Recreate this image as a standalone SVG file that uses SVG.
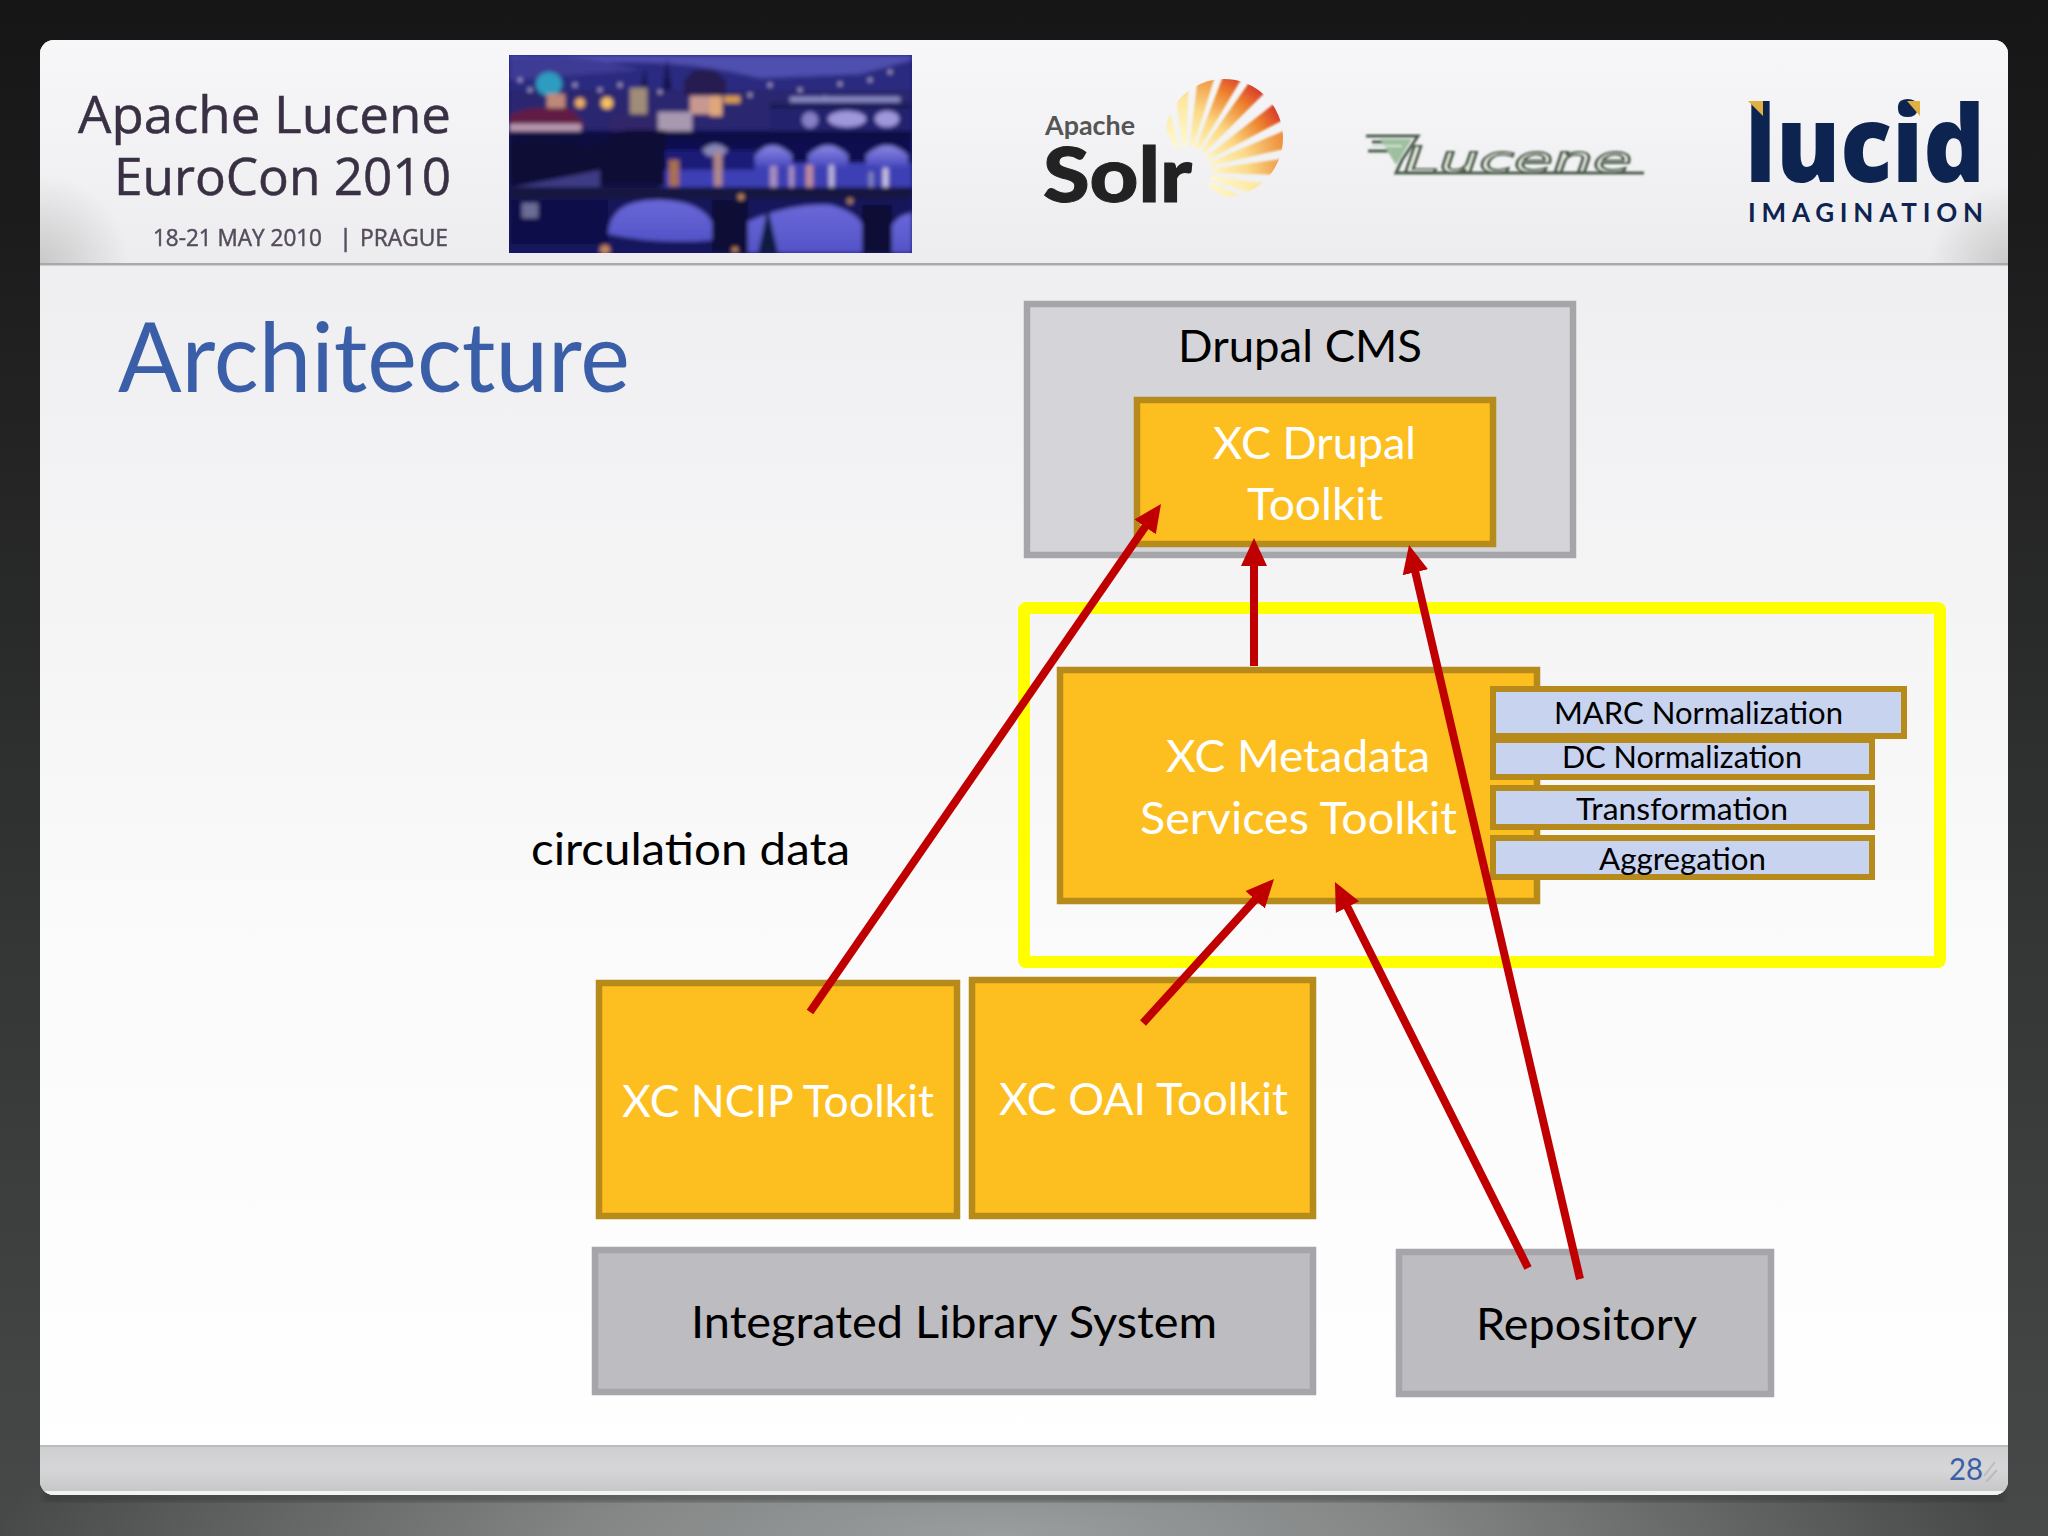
<svg xmlns="http://www.w3.org/2000/svg" width="2048" height="1536" viewBox="0 0 2048 1536">
<style>
.b{font-family:Lato,"Liberation Sans",sans-serif;font-size:44px;text-anchor:start}
.s{font-family:Lato,"Liberation Sans",sans-serif;font-size:31px;fill:#000}
.w{fill:#fff}.k{fill:#000}
.gold{fill:#fdbe20;stroke:#b78a1c;stroke-width:6.5}
.gray{fill:#bdbcc0;stroke:#a6a5aa;stroke-width:6.5}
.blue{fill:#c8d3ef;stroke:#b78a1c;stroke-width:6}
.hd{font-family:"Open Sans","Noto Sans",sans-serif;fill:#3a3044;stroke:#3a3044;stroke-width:.5}
.arrow{stroke:#c00000;stroke-width:8;fill:none;marker-end:url(#ah)}
</style>
<defs>
<marker id="ah" markerUnits="userSpaceOnUse" markerWidth="34" markerHeight="34" refX="6" refY="15" orient="auto"><path d="M0 2L28 15L0 28Z" fill="#c00000"/></marker>
<linearGradient id="bg" x1="0" y1="0" x2="0" y2="1"><stop offset="0" stop-color="#161616"/><stop offset=".15" stop-color="#1c1c1c"/><stop offset="1" stop-color="#484a4a"/></linearGradient>
<radialGradient id="glow" cx="1000" cy="1536" r="1000" gradientUnits="userSpaceOnUse" gradientTransform="matrix(1 0 0 .2 0 1228.8)"><stop offset="0" stop-color="#9a9e9e"/><stop offset=".4" stop-color="#858787"/><stop offset="1" stop-color="#858787" stop-opacity="0"/></radialGradient>
<linearGradient id="body" x1="0" y1="0" x2="0" y2="1"><stop offset="0" stop-color="#ebebed"/><stop offset=".65" stop-color="#fbfbfc"/><stop offset="1" stop-color="#fff"/></linearGradient>
<linearGradient id="head" x1="0" y1="0" x2="0" y2="1"><stop offset="0" stop-color="#f7f7f9"/><stop offset="1" stop-color="#ededef"/></linearGradient>
<linearGradient id="foot" x1="0" y1="0" x2="0" y2="1"><stop offset="0" stop-color="#cfcfd1"/><stop offset=".5" stop-color="#d6d6d8"/><stop offset="1" stop-color="#c4c4c6"/></linearGradient>
<radialGradient id="cornerL" cx="40" cy="265" r="90" gradientUnits="userSpaceOnUse"><stop offset="0" stop-color="#b0b0b0" stop-opacity=".6"/><stop offset="1" stop-color="#b0b0b0" stop-opacity="0"/></radialGradient>
<radialGradient id="cornerR" cx="2008" cy="265" r="80" gradientUnits="userSpaceOnUse"><stop offset="0" stop-color="#b0b0b0" stop-opacity=".6"/><stop offset="1" stop-color="#b0b0b0" stop-opacity="0"/></radialGradient>
<clipPath id="panel"><rect x="40" y="40" width="1968" height="1455" rx="14"/></clipPath>
<clipPath id="ph"><rect x="509" y="55" width="403" height="198"/></clipPath>
<clipPath id="sun"><circle cx="1224" cy="138" r="59"/></clipPath>
<filter id="bl" x="-5%" y="-5%" width="110%" height="110%"><feGaussianBlur stdDeviation="2"/></filter>
<filter id="bl2" x="-5%" y="-5%" width="110%" height="110%"><feGaussianBlur stdDeviation=".8"/></filter>
<linearGradient id="arch" x1="0" y1="0" x2="0" y2="1"><stop offset="0" stop-color="#8a88e4"/><stop offset="1" stop-color="#4c4cc0"/></linearGradient>
<linearGradient id="archLow" x1="0" y1="0" x2="0" y2="1"><stop offset="0" stop-color="#6a68d8"/><stop offset="1" stop-color="#5454c8"/></linearGradient>
<radialGradient id="r1" cx="1186" cy="172" r="112" gradientUnits="userSpaceOnUse"><stop offset=".2" stop-color="#fff8c8"/><stop offset=".5" stop-color="#fbd680"/><stop offset=".78" stop-color="#ee8530"/><stop offset="1" stop-color="#d8352a"/></radialGradient>
<radialGradient id="r2" cx="1186" cy="172" r="112" gradientUnits="userSpaceOnUse"><stop offset=".2" stop-color="#fff8c8"/><stop offset=".55" stop-color="#fbda88"/><stop offset=".85" stop-color="#f09a45"/><stop offset="1" stop-color="#e88038"/></radialGradient>
<radialGradient id="r3" cx="1186" cy="172" r="112" gradientUnits="userSpaceOnUse"><stop offset=".2" stop-color="#fffad0"/><stop offset=".65" stop-color="#fde7a0"/><stop offset="1" stop-color="#e4b860"/></radialGradient>
<polygon id="ray" points="1212,170 1316,161 1316,183 1212,174"/>
</defs>

<rect id="backdrop" width="2048" height="1536" fill="url(#bg)"/>
<rect width="2048" height="1536" fill="url(#glow)"/>
<rect x="44" y="1490" width="1960" height="12" fill="#333" opacity=".45" filter="url(#bl)"/>

<g id="slide" clip-path="url(#panel)">
<rect x="40" y="40" width="1968" height="1455" fill="url(#body)"/>
<rect x="40" y="40" width="1968" height="223" fill="url(#head)"/>
<rect x="40" y="175" width="90" height="90" fill="url(#cornerL)"/>
<rect x="1928" y="185" width="80" height="80" fill="url(#cornerR)"/>
<rect x="40" y="263" width="1968" height="2.5" fill="#a9a9ab"/>
<rect x="40" y="1445" width="1968" height="50" fill="url(#foot)"/>
<rect x="40" y="1445" width="1968" height="2" fill="#bcbcbe"/>
<rect x="40" y="1491" width="1968" height="4" fill="#f2f2f2"/>
</g>

<g id="conference">
<text class="hd" x="78" y="133" font-size="52" textLength="373" lengthAdjust="spacingAndGlyphs">Apache Lucene</text>
<text class="hd" x="114" y="195" font-size="52" textLength="337" lengthAdjust="spacingAndGlyphs">EuroCon 2010</text>
<text class="hd" y="246" font-size="24" opacity=".85"><tspan x="153" textLength="169" lengthAdjust="spacingAndGlyphs">18-21 MAY 2010</tspan><tspan x="339">|</tspan><tspan x="360" textLength="88" lengthAdjust="spacingAndGlyphs">PRAGUE</tspan></text>
</g>

<g id="photo" clip-path="url(#ph)">
<rect x="509" y="55" width="403" height="198" fill="#1c1c78"/>
<g filter="url(#bl)">
<rect x="509" y="55" width="403" height="40" fill="#4f4fb0"/>
<path d="M509 70Q650 50 760 78L860 74L912 60V130H509Z" fill="#2c2a80"/>
<path d="M509 58Q580 52 640 70L509 80Z" fill="#3c3a94"/>
<rect x="509" y="90" width="403" height="40" fill="#2a2670"/>
<path d="M672 90L667 58L662 90ZM648 90L645 68L640 90Z" fill="#181650"/>
<path d="M684 80L694 70H714L726 80V95H684Z" fill="#261a50"/>
<ellipse cx="549" cy="84" rx="13" ry="12" fill="#2f9cc0"/>
<rect x="547" y="94" width="18" height="16" fill="#c08878"/>
<rect x="630" y="88" width="17" height="28" fill="#a08c78"/>
<rect x="690" y="96" width="30" height="18" fill="#c89890"/>
<rect x="710" y="96" width="12" height="20" fill="#e0a878"/>
<rect x="724" y="96" width="16" height="7" fill="#d89c50"/>
<circle cx="580" cy="103" r="5" fill="#f0b060"/><circle cx="607" cy="103" r="6" fill="#f8c060"/>
<rect x="658" y="112" width="34" height="20" fill="#a898b0"/>
<path d="M509 115L530 108H570L583 122V128H509Z" fill="#601a44"/>
<rect x="509" y="124" width="72" height="13" fill="#b898b0"/>
<rect x="545" y="136" width="28" height="12" fill="#c0a8b8"/>
<rect x="610" y="114" width="48" height="30" fill="#30286a"/>
<g fill="#c0b0d8"><circle cx="520" cy="80" r="2"/><circle cx="530" cy="90" r="2"/><circle cx="575" cy="85" r="2"/><circle cx="600" cy="90" r="2"/><circle cx="620" cy="85" r="2"/><circle cx="660" cy="92" r="2"/><circle cx="750" cy="95" r="2"/><circle cx="770" cy="85" r="2"/><circle cx="800" cy="90" r="2"/><circle cx="840" cy="84" r="2"/><circle cx="870" cy="80" r="2"/><circle cx="890" cy="72" r="2"/><circle cx="795" cy="100" r="2"/><circle cx="825" cy="98" r="2"/></g>
<rect x="790" y="97" width="110" height="5" fill="#8c8cc8"/>
<rect x="770" y="103" width="142" height="6" fill="#1c1a58"/>
<rect x="770" y="109" width="142" height="22" fill="#24206e"/>
<ellipse cx="847" cy="119" rx="19" ry="8" fill="#a098dc"/>
<ellipse cx="887" cy="119" rx="12" ry="8" fill="#a098dc"/>
<ellipse cx="810" cy="120" rx="8" ry="8" fill="#8880c8"/>
<rect x="509" y="131" width="403" height="12" fill="#0d0f44"/>
<rect x="660" y="140" width="252" height="24" fill="#0f1150"/>
<rect x="660" y="163" width="252" height="28" fill="#3e40b4"/>
<rect x="660" y="150" width="95" height="20" fill="#1a1c78"/>
<path d="M755 166V155Q772 136 792 155V166ZM808 166V155Q828 136 848 155V166ZM866 166V155Q887 136 908 155V166Z" fill="url(#arch)"/>
<path d="M702 150Q715 138 728 150L722 156H708Z" fill="#8888b8"/>
<rect x="669" y="160" width="10" height="26" fill="#a87050"/>
<rect x="714" y="152" width="8" height="34" fill="#b08888"/>
<rect x="770" y="166" width="7" height="24" fill="#a890c0"/><rect x="789" y="166" width="5" height="24" fill="#a890c0"/>
<rect x="806" y="165" width="7" height="25" fill="#c08c98"/><rect x="829" y="165" width="5" height="25" fill="#c0b8dc"/>
<rect x="869" y="172" width="4" height="20" fill="#8888bc"/><rect x="883" y="168" width="5" height="24" fill="#d0c8e4"/>
<rect x="509" y="135" width="151" height="50" fill="#100f40"/>
<path d="M509 142Q560 135 590 150L625 130H665V186H509Z" fill="#0b0c36"/>
<path d="M509 188L570 176L600 170V188Z" fill="#3e3a84"/>
<rect x="509" y="187" width="403" height="13" fill="#14133f"/>
<rect x="509" y="199" width="403" height="54" fill="#14145c"/>
<path d="M608 234Q610 199 660 200Q700 201 712 222V240Q660 245 608 234Z" fill="url(#archLow)"/>
<path d="M747 253V222Q790 203 830 205Q856 212 862 224V253Z" fill="url(#archLow)"/>
<path d="M892 253V225Q900 214 912 213V253Z" fill="url(#archLow)"/>
<rect x="712" y="200" width="36" height="53" fill="#101036"/>
<rect x="862" y="205" width="30" height="48" fill="#101036"/>
<path d="M758 253L768 208L778 253Z" fill="#0d1a40"/>
<rect x="509" y="200" width="99" height="44" fill="#111148"/>
<rect x="522" y="203" width="16" height="15" fill="#6c6c98"/>
<circle cx="605" cy="250" r="5" fill="#c88858"/><circle cx="735" cy="250" r="3" fill="#c88858"/><circle cx="741" cy="197" r="3" fill="#c89058"/><circle cx="850" cy="201" r="3" fill="#b08060"/>
</g>
</g>

<g id="solr">
<g clip-path="url(#sun)" filter="url(#bl2)">
<use href="#ray" fill="url(#r3)" transform="rotate(-110 1186 172)"/>
<use href="#ray" fill="url(#r3)" transform="rotate(-93 1186 172)"/>
<use href="#ray" fill="url(#r2)" transform="rotate(-78 1186 172)"/>
<use href="#ray" fill="url(#r1)" transform="rotate(-64 1186 172)"/>
<use href="#ray" fill="url(#r1)" transform="rotate(-50 1186 172)"/>
<use href="#ray" fill="url(#r1)" transform="rotate(-33 1186 172)"/>
<use href="#ray" fill="url(#r2)" transform="rotate(-18 1186 172)"/>
<use href="#ray" fill="url(#r2)" transform="rotate(-3 1186 172)"/>
<use href="#ray" fill="url(#r3)" transform="rotate(13 1186 172)"/>
<use href="#ray" fill="url(#r3)" transform="rotate(28 1186 172)"/>
</g>
<text x="1045" y="135" font-family="Lato,'Liberation Sans',sans-serif" font-weight="700" font-size="26" fill="#555" textLength="90" lengthAdjust="spacingAndGlyphs">Apache</text>
<text x="1043" y="202" font-family="Lato,'Liberation Sans',sans-serif" font-weight="900" font-size="76" fill="#222" stroke="#222" stroke-width="1" textLength="149" lengthAdjust="spacingAndGlyphs">Solr</text>
</g>

<g id="lucene-logo" filter="url(#bl2)">
<path d="M1366 136H1418L1402 160M1372 142H1404M1368 151H1400M1402 160L1396 173H1644" fill="none" stroke="#4c5c4c" stroke-width="3"/>
<path d="M1380 139L1412 139L1396 165Z" fill="#9fc09f"/>
<path d="M1372 146L1402 146" stroke="#cfe0cf" stroke-width="2"/>
<text x="1404" y="172" font-family="'DejaVu Sans',sans-serif" font-style="italic" font-size="36" fill="#eef3e8" stroke="#4c5c4c" stroke-width="1.8" textLength="228" lengthAdjust="spacingAndGlyphs">Lucene</text>
</g>

<g id="lucid-logo">
<text x="1745" y="182" font-family="'Open Sans','Noto Sans',sans-serif" font-weight="800" font-size="106" fill="#0d2350" textLength="240" lengthAdjust="spacingAndGlyphs">lucid</text>
<polygon points="1748,101 1763,101 1763,116" fill="#e0b040"/>
<polygon points="1907,101 1920,101 1920,116" fill="#e0b040"/>
<text x="1748" y="222" font-family="Lato,'Liberation Sans',sans-serif" font-weight="700" font-size="26" fill="#0d2350" textLength="235">IMAGINATION</text>
</g>

<text id="title" x="118" y="392" font-family="Lato,'Liberation Sans',sans-serif" font-size="96" fill="#3b5ea9" textLength="512" lengthAdjust="spacingAndGlyphs">Architecture</text>

<g id="drupal-cms">
<rect class="gray" x="1027" y="304" width="546" height="251" style="fill:#d5d5d9"/>
<text class="b k" x="1178" y="362" textLength="244" lengthAdjust="spacingAndGlyphs">Drupal CMS</text>
</g>
<g id="xc-drupal">
<rect class="gold" x="1137" y="400" width="356" height="144"/>
<text class="b w" x="1213" y="459" textLength="203" lengthAdjust="spacingAndGlyphs">XC Drupal</text>
<text class="b w" x="1247" y="520" textLength="136" lengthAdjust="spacingAndGlyphs">Toolkit</text>
</g>
<rect id="msm-frame" x="1024" y="608" width="916" height="354" fill="none" stroke="#ffff00" stroke-width="12" rx="2"/>
<g id="xc-metadata">
<rect class="gold" x="1060" y="670" width="477" height="231"/>
<text class="b w" x="1166" y="772" textLength="264" lengthAdjust="spacingAndGlyphs">XC Metadata</text>
<text class="b w" x="1140" y="834" textLength="317" lengthAdjust="spacingAndGlyphs">Services Toolkit</text>
</g>
<g id="dc-normalization">
<rect class="blue" x="1493" y="740" width="379" height="37"/>
<text class="s" x="1562" y="768" textLength="240" lengthAdjust="spacingAndGlyphs">DC Normalization</text>
</g>
<g id="marc-normalization">
<rect class="blue" x="1493" y="689" width="411" height="47"/>
<text class="s" x="1554" y="724" textLength="289" lengthAdjust="spacingAndGlyphs">MARC Normalization</text>
</g>
<g id="transformation">
<rect class="blue" x="1493" y="788" width="379" height="39"/>
<text class="s" x="1576" y="820" textLength="212" lengthAdjust="spacingAndGlyphs">Transformation</text>
</g>
<g id="aggregation">
<rect class="blue" x="1493" y="838" width="379" height="39"/>
<text class="s" x="1599" y="870" textLength="167" lengthAdjust="spacingAndGlyphs">Aggregation</text>
</g>
<text id="circulation-data" class="b k" x="531" y="865" textLength="319" lengthAdjust="spacingAndGlyphs">circulation data</text>
<g id="xc-ncip">
<rect class="gold" x="599" y="983" width="358" height="233"/>
<text class="b w" x="622" y="1117" textLength="312" lengthAdjust="spacingAndGlyphs">XC NCIP Toolkit</text>
</g>
<g id="xc-oai">
<rect class="gold" x="972" y="980" width="341" height="236"/>
<text class="b w" x="999" y="1115" textLength="289" lengthAdjust="spacingAndGlyphs">XC OAI Toolkit</text>
</g>
<g id="ils">
<rect class="gray" x="595" y="1250" width="718" height="142"/>
<text class="b k" x="691" y="1338" textLength="526" lengthAdjust="spacingAndGlyphs">Integrated Library System</text>
</g>
<g id="repository">
<rect class="gray" x="1399" y="1252" width="372" height="142"/>
<text class="b k" x="1476" y="1340" textLength="221" lengthAdjust="spacingAndGlyphs">Repository</text>
</g>

<g id="connectors">
<line class="arrow" x1="810" y1="1012" x2="1148.5" y2="522"/>
<line class="arrow" x1="1254" y1="666" x2="1254" y2="560"/>
<line class="arrow" x1="1580" y1="1279" x2="1414" y2="566.4"/>
<line class="arrow" x1="1143" y1="1023" x2="1259.2" y2="895.3"/>
<line class="arrow" x1="1528" y1="1268" x2="1344.8" y2="901.7"/>
</g>

<text id="page-number" x="1949" y="1480" font-family="Lato,'Liberation Sans',sans-serif" font-size="31" fill="#3b5ea9" textLength="34" lengthAdjust="spacingAndGlyphs">28</text>
<path d="M1984 1476L1995 1462M1986 1482L1997 1470" stroke="#bbb" stroke-width="2" fill="none"/>
</svg>
